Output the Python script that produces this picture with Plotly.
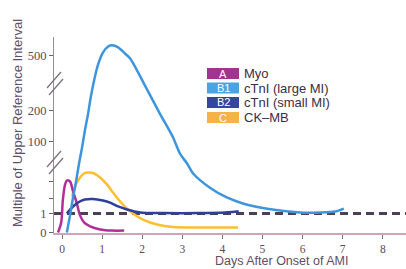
import numpy as np
import plotly.graph_objects as go

# ---- data (days after onset, multiple of upper reference interval) ----
myo_days = [-0.10, -0.02, 0.02, 0.07, 0.12, 0.20, 0.27, 0.37, 0.45, 0.55, 0.70, 0.95, 1.25, 1.55]
myo_vals = [0.0, 0.53, 1.87, 4.3, 5.3, 5.0, 3.4, 1.67, 0.9, 0.53, 0.32, 0.16, 0.10, 0.10]

ctni_large_days = [0.12, 0.20, 0.27, 0.35, 0.42, 0.50, 0.57, 0.65, 0.72, 0.80, 0.90, 1.02, 1.15,
                   1.25, 1.40, 1.57, 1.70, 2.07, 2.44, 2.77, 2.94, 3.12, 3.27, 3.69, 4.11, 4.51,
                   4.94, 5.44, 5.94, 6.43, 6.81, 7.03]
ctni_large_vals = [0.0, 0.9, 2.0, 5.0, 13.75, 77.5, 135, 190, 276, 364, 451, 516, 549,
                   555, 544, 511, 484, 336, 190, 113, 55, 17.5, 7.5, 3.9, 2.18, 1.67,
                   1.4, 1.2, 1.07, 1.07, 1.13, 1.33]

ctni_small_days = [0.12, 0.25, 0.40, 0.57, 0.77, 1.02, 1.20, 1.40, 1.62, 1.95, 2.52, 3.44, 4.06, 4.36, 4.41]
ctni_small_vals = [1.0, 1.4, 1.73, 1.93, 1.97, 1.87, 1.73, 1.47, 1.27, 1.07, 1.03, 1.03, 1.07, 1.13, 1.13]

ckmb_days = [0.25, 0.35, 0.45, 0.55, 0.65, 0.80, 0.95, 1.12, 1.27, 1.45, 1.62, 1.77, 2.02, 2.37, 2.77, 3.44, 4.39]
ckmb_vals = [2.35, 4.5, 6.25, 7.5, 7.8, 7.5, 6.25, 4.5, 3.06, 1.8, 1.33, 1.0, 0.68, 0.42, 0.29, 0.26, 0.26]

reference_level = 1.0

x_ticks = [0, 1, 2, 3, 4, 5, 6, 7, 8]
y_tick_values = [0, 1, 2, 5, 100, 200, 500]
y_tick_labels = ["0", "1", "", "", "100", "200", "500"]

legend_codes = ["A", "B1", "B2", "C"]
legend_names = ["Myo", "cTnI (large MI)", "cTnI (small MI)", "CK\u2013MB"]
legend_box_colors = ["#a3338f", "#4aa3e3", "#34479a", "#f5b247"]

# ---- broken y-scale (piecewise) ----
scale_vals = [0, 1, 2, 5, 10, 100, 200, 500, 700]
scale_pos = [0, 19, 34, 51, 67, 91, 122, 177, 214]


def yscale(v):
    return np.interp(np.asarray(v, dtype=float), scale_vals, scale_pos)


W, H = 406, 269
L, R, T, B = 54, 0, 37, 36
PW, PH = W - L - R, H - T - B


def px_x(px):
    return (px - L) / PW


def px_y(py):
    return (H - B - py) / PH


SANS = "Liberation Sans, Arial, sans-serif"
SERIF = "Liberation Serif, Times New Roman, serif"

fig = go.Figure()

# dashed reference line
fig.add_trace(go.Scatter(x=[-0.2, 8.7], y=yscale([reference_level, reference_level]),
                         mode="lines", line=dict(color="#4d3f55", width=3, dash="8px,5px"),
                         hoverinfo="skip", showlegend=False))

series = [
    (ckmb_days, ckmb_vals, "#fbbf30"),
    (myo_days, myo_vals, "#b02f96"),
    (ctni_small_days, ctni_small_vals, "#2f3f9c"),
    (ctni_large_days, ctni_large_vals, "#3d95dd"),
]
for xs, vs, col in series:
    fig.add_trace(go.Scatter(x=xs, y=yscale(vs), mode="lines",
                             line=dict(color=col, width=2.5, shape="spline", smoothing=0.8),
                             showlegend=False))

shapes = []
annotations = []

# axis break marks
for (a, b) in [((47, 88), (61, 72)), ((49, 95), (63, 79)),
               ((47, 167), (61, 151)), ((49, 174), (63, 158))]:
    shapes.append(dict(type="line", xref="paper", yref="paper",
                       x0=px_x(a[0]), y0=px_y(a[1]), x1=px_x(b[0]), y1=px_y(b[1]),
                       line=dict(color="#7f737b", width=1.3)))

# custom legend
row_centers = [73.5, 88, 102.5, 117.5]
for code, name, col, cy in zip(legend_codes, legend_names, legend_box_colors, row_centers):
    shapes.append(dict(type="rect", xref="paper", yref="paper",
                       x0=px_x(207), x1=px_x(239), y0=px_y(cy + 5.5), y1=px_y(cy - 5.5),
                       fillcolor=col, line=dict(width=0)))
    annotations.append(dict(x=px_x(223), y=px_y(cy), xref="paper", yref="paper",
                            text=code, showarrow=False, xanchor="center", yanchor="middle",
                            font=dict(family=SANS, size=11, color="white")))
    annotations.append(dict(x=px_x(242), y=px_y(cy), xref="paper", yref="paper",
                            text=name, showarrow=False, xanchor="left", yanchor="middle",
                            font=dict(family=SANS, size=13, color="#3b2d45")))

annotations.append(dict(x=px_x(17), y=px_y(123), xref="paper", yref="paper",
                        text="Multiple of Upper Reference Interval", textangle=-90,
                        showarrow=False, xanchor="center", yanchor="middle",
                        font=dict(family=SANS, size=13, color="#5e4e66")))
annotations.append(dict(x=px_x(281), y=px_y(260.5), xref="paper", yref="paper",
                        text="Days After Onset of AMI", showarrow=False,
                        xanchor="center", yanchor="middle",
                        font=dict(family=SANS, size=12.5, color="#5e4e66")))

fig.update_layout(
    width=W, height=H, margin=dict(l=L, r=R, t=T, b=B),
    paper_bgcolor="white", plot_bgcolor="white",
    shapes=shapes, annotations=annotations, showlegend=False,
    xaxis=dict(range=[-0.2, 8.58], tickvals=x_ticks, ticktext=[str(t) for t in x_ticks],
               showgrid=False, zeroline=False, showline=True, linecolor="#cfa3b8", linewidth=2,
               ticks="outside", ticklen=4, tickcolor="#7a6a72", tickwidth=1,
               tickfont=dict(family=SERIF, size=11.5, color="#5a4a55")),
    yaxis=dict(range=[-0.5, 195.5], tickvals=list(yscale(y_tick_values)), ticktext=y_tick_labels,
               showgrid=False, zeroline=False, showline=True, linecolor="#9a8f95", linewidth=1,
               ticks="outside", ticklen=4, tickcolor="#6a5f66", tickwidth=1,
               tickfont=dict(family=SERIF, size=12.5, color="#5a4a55")),
)

fig.write_html("out.html", config={"displayModeBar": False},
               post_script="document.body.style.margin='0';document.body.style.overflow='hidden';")
